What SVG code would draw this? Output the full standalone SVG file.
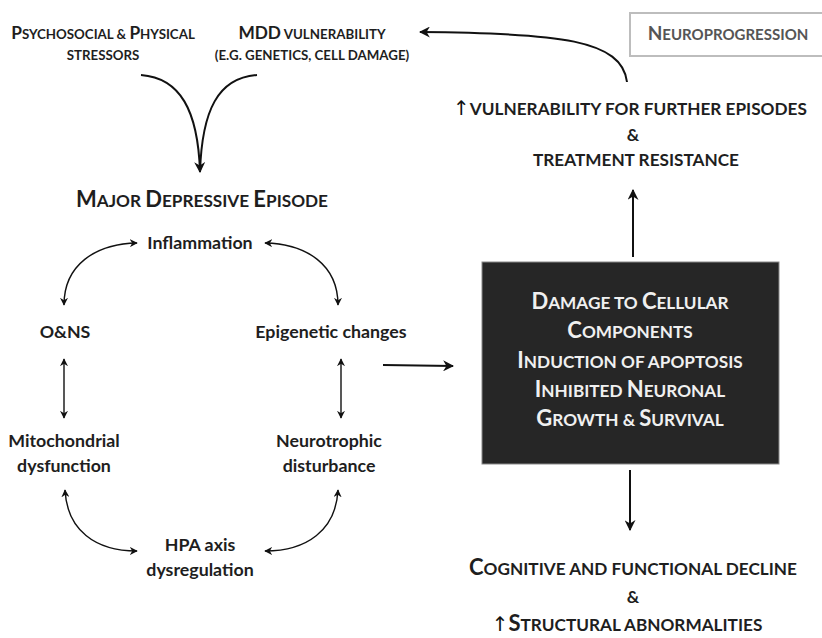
<svg xmlns="http://www.w3.org/2000/svg" width="822" height="638" viewBox="0 0 822 638">
<defs>
<style>
text{font-family:Lato,"Open Sans","Liberation Sans",sans-serif;font-weight:bold;fill:#1e1e1e;text-anchor:middle}
.sc{font-size:13.3px}
.L{font-size:17.3px}
.big{font-size:17.2px}
.bigL{font-size:22px}
.wt{fill:#f0f0f0;font-size:17.2px}
.wtL{font-size:22px}
.m{font-size:17.8px}
.up{font-family:"DejaVu Sans",sans-serif;font-weight:normal;fill:#111;font-size:20px}
.c{fill:none;stroke:#111;stroke-width:2}
.ct{fill:none;stroke:#111;stroke-width:1.4}
</style>
<marker id="ah" viewBox="0 0 10 10" refX="9" refY="5" markerWidth="8" markerHeight="8" orient="auto-start-reverse" markerUnits="userSpaceOnUse">
<path d="M0,0 L10,5 L0,10 L3,5 z" fill="#111"/>
</marker>
<marker id="ahb" viewBox="0 0 10 10" refX="9" refY="5" markerWidth="11" markerHeight="11" orient="auto-start-reverse" markerUnits="userSpaceOnUse">
<path d="M0,0 L10,5 L0,10 L3,5 z" fill="#111"/>
</marker>
</defs>
<rect width="822" height="638" fill="#fff"/>
<g id="connectors">
<path class="c" d="M141,75 C180,78 198,110 200,172" marker-end="url(#ahb)"/>
<path class="c" d="M257,75 C218,78 202,110 200,172"/>
<path class="c" d="M627,82 C622,40 560,33 420,32" marker-end="url(#ahb)"/>
<path class="c" d="M633,257 L633,190" marker-end="url(#ahb)"/>
<path class="c" d="M383,365 L453,366" marker-end="url(#ahb)"/>
<path class="c" d="M630,470 L630,530" marker-end="url(#ahb)"/>
<path class="ct" d="M64,305 C64,265 95,244 137,243" marker-start="url(#ah)" marker-end="url(#ah)"/>
<path class="ct" d="M338,305 C338,265 307,244 265,243" marker-start="url(#ah)" marker-end="url(#ah)"/>
<path class="ct" d="M64,359 L64,418" marker-start="url(#ah)" marker-end="url(#ah)"/>
<path class="ct" d="M341,359 L341,418" marker-start="url(#ah)" marker-end="url(#ah)"/>
<path class="ct" d="M65,490 C67,530 95,551 137,551" marker-start="url(#ah)" marker-end="url(#ah)"/>
<path class="ct" d="M338,490 C336,530 307,551 265,551" marker-start="url(#ah)" marker-end="url(#ah)"/>
</g>
<g id="stressors">
<text x="103" y="39" class="sc"><tspan class="L">P</tspan>SYCHOSOCIAL &amp; <tspan class="L">P</tspan>HYSICAL</text>
<text x="103" y="60" class="sc">STRESSORS</text>
</g>
<g id="mdd">
<text x="312" y="39" class="sc"><tspan class="L">MDD</tspan> VULNERABILITY</text>
<text x="312" y="60" class="sc">(E.G. GENETICS, CELL DAMAGE)</text>
</g>
<g id="neuroprogression">
<rect x="630" y="13" width="196" height="43" fill="#fff" stroke="#bdbdbd" stroke-width="2"/>
<text x="728" y="40" class="sc" style="fill:#555;font-size:15px"><tspan style="font-size:19px">N</tspan>EUROPROGRESSION</text>
</g>
<g id="vulnerability">
<text x="630" y="115" class="big"><tspan class="up">↑</tspan>VULNERABILITY FOR FURTHER EPISODES</text>
<text x="633" y="141" class="big">&amp;</text>
<text x="636" y="166" class="big">TREATMENT RESISTANCE</text>
</g>
<g id="mde">
<text x="202" y="207" class="big"><tspan class="bigL">M</tspan>AJOR <tspan class="bigL">D</tspan>EPRESSIVE <tspan class="bigL">E</tspan>PISODE</text>
</g>
<g id="inflammation"><text x="200" y="249" class="m">Inflammation</text></g>
<g id="ons"><text x="65" y="338" class="m">O&amp;NS</text></g>
<g id="epigenetic"><text x="331" y="338" class="m">Epigenetic changes</text></g>
<g id="mito"><text x="64" y="447" class="m">Mitochondrial</text><text x="64" y="472" class="m">dysfunction</text></g>
<g id="neurotrophic"><text x="329" y="447" class="m">Neurotrophic</text><text x="329" y="472" class="m">disturbance</text></g>
<g id="hpa"><text x="200" y="551" class="m">HPA axis</text><text x="200" y="576" class="m">dysregulation</text></g>
<g id="damage">
<rect x="482" y="262" width="297" height="202" fill="#262626" stroke="#888" stroke-width="1"/>
<text x="630" y="309" class="wt"><tspan class="wtL">D</tspan>AMAGE TO <tspan class="wtL">C</tspan>ELLULAR</text>
<text x="630" y="338" class="wt"><tspan class="wtL">C</tspan>OMPONENTS</text>
<text x="630" y="368" class="wt"><tspan class="wtL">I</tspan>NDUCTION OF APOPTOSIS</text>
<text x="630" y="397" class="wt"><tspan class="wtL">I</tspan>NHIBITED <tspan class="wtL">N</tspan>EURONAL</text>
<text x="630" y="426" class="wt"><tspan class="wtL">G</tspan>ROWTH &amp; <tspan class="wtL">S</tspan>URVIVAL</text>
</g>
<g id="decline">
<text x="633" y="575" class="big"><tspan class="bigL">C</tspan>OGNITIVE AND FUNCTIONAL DECLINE</text>
<text x="633" y="603" class="big">&amp;</text>
<text x="627" y="631" class="big"><tspan class="up">↑</tspan><tspan class="bigL">S</tspan>TRUCTURAL ABNORMALITIES</text>
</g>
</svg>
